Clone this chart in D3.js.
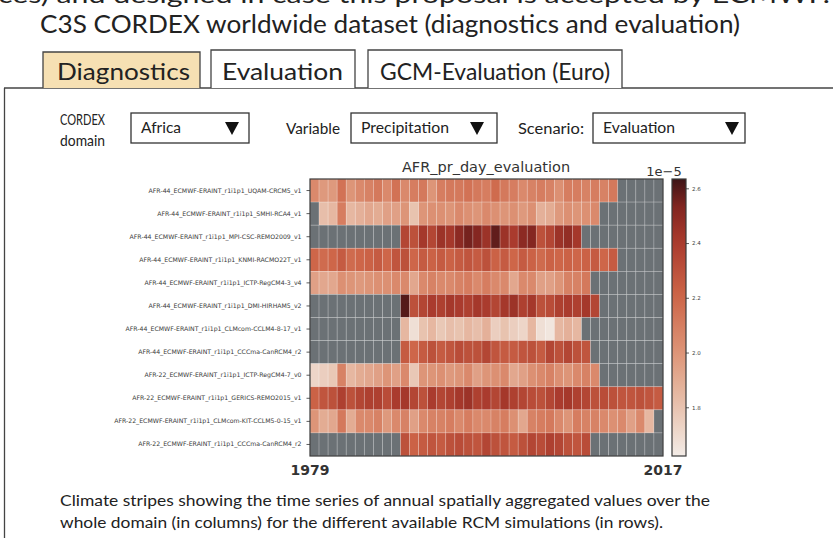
<!DOCTYPE html>
<html>
<head>
<meta charset="utf-8">
<title>AFR_pr_day_evaluation</title>
<script src="https://cdn.jsdelivr.net/npm/d3@7"></script>
<style>
  body { margin: 0; background: #fff; }
  svg { display: block; }
  .ui { font-family: Lato, "Open Sans", sans-serif; fill: #222; }
  .mpl { font-family: "DejaVu Sans", sans-serif; fill: #333; }
</style>
</head>
<body>
<div id="chart"></div>
<script>
// rows of the heatmap (RCM simulations)
var models = [
  "AFR-44_ECMWF-ERAINT_r1i1p1_UQAM-CRCM5_v1",
  "AFR-44_ECMWF-ERAINT_r1i1p1_SMHI-RCA4_v1",
  "AFR-44_ECMWF-ERAINT_r1i1p1_MPI-CSC-REMO2009_v1",
  "AFR-44_ECMWF-ERAINT_r1i1p1_KNMI-RACMO22T_v1",
  "AFR-44_ECMWF-ERAINT_r1i1p1_ICTP-RegCM4-3_v4",
  "AFR-44_ECMWF-ERAINT_r1i1p1_DMI-HIRHAM5_v2",
  "AFR-44_ECMWF-ERAINT_r1i1p1_CLMcom-CCLM4-8-17_v1",
  "AFR-44_ECMWF-ERAINT_r1i1p1_CCCma-CanRCM4_r2",
  "AFR-22_ECMWF-ERAINT_r1i1p1_ICTP-RegCM4-7_v0",
  "AFR-22_ECMWF-ERAINT_r1i1p1_GERICS-REMO2015_v1",
  "AFR-22_ECMWF-ERAINT_r1i1p1_CLMcom-KIT-CCLM5-0-15_v1",
  "AFR-22_ECMWF-ERAINT_r1i1p1_CCCma-CanRCM4_r2"
];
var firstYear = [1979, 1980, 1989, 1979, 1979, 1989, 1989, 1989, 1979, 1979, 1979, 1989];
var yearTicks = [1979, 2017];
var cbarTicks = [1.8, 2.0, 2.2, 2.4, 2.6];

// annual precipitation, units of 1e-5
var uqamCrcm5 = [2.05,1.98,1.98,2.15,2.0,2.05,2.08,2.12,2.05,2.15,2.05,2.10,2.12,2.0,2.10,2.12,2.12,2.15,2.12,2.10,2.18,2.12,2.10,2.05,2.08,2.10,2.08,2.02,2.10,2.10,2.08,2.10,2.08,2.12];
var smhiRca4 = [1.82,1.85,2.1,1.85,1.88,1.92,1.9,1.95,1.95,2.0,1.80,2.0,2.02,2.02,2.0,2.05,2.02,2.0,2.05,2.02,2.0,2.02,1.98,2.02,1.88,1.90,1.98,2.02,2.0,2.02,2.05];
var remo2009 = [2.35,2.3,2.42,2.35,2.45,2.42,2.5,2.55,2.52,2.45,2.58,2.45,2.4,2.5,2.52,2.3,2.35,2.45,2.48,2.42];
var racmo22t = [2.2,2.18,2.2,2.25,2.18,2.2,2.22,2.25,2.2,2.28,2.3,2.2,2.25,2.22,2.25,2.22,2.25,2.28,2.25,2.3,2.22,2.25,2.2,2.25,2.22,2.18,2.22,2.2,2.22,2.2,2.22,2.25,2.2,2.25];
var regcm43 = [1.95,1.92,1.92,2.02,2.0,1.98,2.0,2.02,2.02,2.05,2.05,1.92,2.05,2.08,2.05,2.05,2.08,2.10,2.05,2.10,2.05,2.05,1.92,2.05,2.05,1.95,1.95,2.0,2.08,2.08,2.12];
var hirham5 = [2.6,2.3,2.35,2.4,2.38,2.42,2.4,2.38,2.42,2.4,2.35,2.42,2.45,2.38,2.42,2.3,2.32,2.38,2.40,2.38,2.42,2.35];
var cclm4817 = [1.85,1.68,1.8,1.85,1.78,1.82,1.8,1.85,1.82,1.88,1.75,1.80,1.75,1.72,1.85,1.68,1.65,1.85,1.88,1.85];
var canrcm4_44 = [2.25,2.2,2.25,2.3,2.25,2.28,2.32,2.3,2.3,2.35,2.28,2.25,2.25,2.28,2.3,2.25,2.35,2.3,2.35,2.3,2.28];
var regcm47 = [1.72,1.75,1.78,2.08,1.85,1.9,1.92,1.95,2.0,1.95,2.05,1.78,2.0,2.0,2.02,1.98,2.0,2.05,1.95,2.0,2.02,2.05,1.92,1.95,2.02,2.05,2.08,2.02,2.0,2.05,2.08,2.05];
var remo2015 = [2.22,2.28,2.3,2.38,2.3,2.35,2.38,2.38,2.32,2.4,2.42,2.35,2.3,2.4,2.35,2.38,2.42,2.45,2.38,2.4,2.35,2.42,2.38,2.35,2.32,2.3,2.35,2.4,2.42,2.38,2.35,2.3,2.32,2.3,2.28,2.28,2.3,2.28,2.25];
var cclm5015 = [2.0,1.9,1.92,2.12,1.9,2.05,2.05,2.08,1.98,2.05,2.08,1.95,2.05,2.08,2.08,2.1,2.05,2.1,2.05,2.05,2.08,2.1,2.02,1.92,2.08,2.1,2.12,2.05,2.0,2.1,2.08,2.08,2.05,2.02,2.05,1.95,2.05,1.85];
var canrcm4_22 = [2.3,2.22,2.25,2.28,2.25,2.3,2.32,2.3,2.28,2.35,2.3,2.28,2.25,2.3,2.35,2.32,2.38,2.35,2.3,2.28,2.32];

var series = [uqamCrcm5, smhiRca4, remo2009, racmo22t, regcm43, hirham5,
              cclm4817, canrcm4_44, regcm47, remo2015, cclm5015, canrcm4_22];

var width = 833, height = 538;
var svg = d3.select("#chart").append("svg")
  .attr("width", width).attr("height", height);
svg.append("rect").attr("width", width).attr("height", height).attr("fill", "#fff");

// --- page text and tabs ---
// last line of the previous paragraph, cut by the top edge
svg.append("text").attr("class", "ui").attr("x", -2).attr("y", 3)
  .attr("font-size", 24).attr("textLength", 832).attr("lengthAdjust", "spacingAndGlyphs")
  .text("ces) and designed in case this proposal is accepted by ECMWF.");
svg.append("text").attr("class", "ui").attr("x", 40).attr("y", 33)
  .attr("font-size", 25).attr("textLength", 700).attr("lengthAdjust", "spacingAndGlyphs")
  .text("C3S CORDEX worldwide dataset (diagnostics and evaluation)");

var tabs = [
  {label: "Diagnostics", x0: 43, x1: 200, tx: 57, tw: 133, fill: "#f6e0b3", top: 52},
  {label: "Evaluation", x0: 211, x1: 355, tx: 222, tw: 121, fill: "#fff", top: 50},
  {label: "GCM-Evaluation (Euro)", x0: 368, x1: 622, tx: 380, tw: 230, fill: "#fff", top: 50}
];
svg.append("line").attr("x1", 4).attr("x2", width).attr("y1", 88).attr("y2", 88)
  .attr("stroke", "#444").attr("stroke-width", 1.3);
svg.append("line").attr("x1", 4.5).attr("x2", 4.5).attr("y1", 88).attr("y2", height)
  .attr("stroke", "#444").attr("stroke-width", 1.3);
tabs.forEach(function(t){
  svg.append("path")
    .attr("d", "M" + t.x0 + ",88V" + t.top + "H" + t.x1 + "V88")
    .attr("fill", t.fill).attr("stroke", "#444").attr("stroke-width", 1.3);
  svg.append("text").attr("class", "ui").attr("x", t.tx).attr("y", 80)
    .attr("font-size", 24).attr("textLength", t.tw).attr("lengthAdjust", "spacingAndGlyphs")
    .text(t.label);
});

// --- dropdown controls ---
svg.append("text").attr("class", "ui").attr("x", 60).attr("y", 125).attr("font-size", 15)
  .attr("textLength", 45).attr("lengthAdjust", "spacingAndGlyphs").text("CORDEX");
svg.append("text").attr("class", "ui").attr("x", 60).attr("y", 146).attr("font-size", 15)
  .attr("textLength", 45).attr("lengthAdjust", "spacingAndGlyphs").text("domain");
var controls = [
  {label: "Variable", lx: 286, lw: 54, x0: 351, x1: 497, val: "Precipitation", vw: 88, tri: 470},
  {label: "Scenario:", lx: 518, lw: 66, x0: 593, x1: 745, val: "Evaluation", vw: 72, tri: 725},
  {label: null, x0: 131, x1: 249, val: "Africa", vw: 40, tri: 225}
];
controls.forEach(function(c){
  if (c.label) {
    svg.append("text").attr("class", "ui").attr("x", c.lx).attr("y", 134).attr("font-size", 15)
      .attr("textLength", c.lw).attr("lengthAdjust", "spacingAndGlyphs").text(c.label);
  }
  svg.append("rect").attr("x", c.x0).attr("y", 113).attr("width", c.x1 - c.x0).attr("height", 30)
    .attr("fill", "#fff").attr("stroke", "#333").attr("stroke-width", 1.3);
  svg.append("text").attr("class", "ui").attr("x", c.x0 + 10).attr("y", 133).attr("font-size", 15)
    .attr("textLength", c.vw).attr("lengthAdjust", "spacingAndGlyphs").text(c.val);
  svg.append("path")
    .attr("d", "M" + c.tri + ",122h14l-7,13z").attr("fill", "#111");
});

// --- heatmap ---
var years = d3.range(1979, 2018);
var x = d3.scaleBand().domain(years).range([310, 663]);
var y = d3.scaleBand().domain(models).range([179, 456]);
var vmin = 1.622, vmax = 2.634;
var color = d3.scaleLinear()
  .domain([0, 0.18, 0.38, 0.58, 0.78, 0.9, 1].map(function(t){ return vmin + t * (vmax - vmin); }))
  .range(["#f3ece7", "#e8c2ae", "#dd9376", "#cd6447", "#a8392c", "#812520", "#3d1416"])
  .interpolate(d3.interpolateRgb);

var cells = [];
models.forEach(function(m, i){
  years.forEach(function(yr){
    var k = yr - firstYear[i];
    var v = (k >= 0 && k < series[i].length) ? series[i][k] : null;
    cells.push({model: m, year: yr, value: v});
  });
});

var heat = svg.append("g");
heat.selectAll("rect").data(cells).enter().append("rect")
  .attr("x", function(d){ return x(d.year); })
  .attr("y", function(d){ return y(d.model); })
  .attr("width", x.bandwidth())
  .attr("height", y.bandwidth())
  .attr("fill", function(d){ return d.value == null ? "#6b7175" : color(d.value); })
  .attr("stroke", "rgba(255,255,255,0.28)")
  .attr("stroke-width", 0.7);
heat.append("rect").attr("x", 310).attr("y", 179).attr("width", 353).attr("height", 277)
  .attr("fill", "none").attr("stroke", "#3a3a3a").attr("stroke-width", 1.2);

// y axis labels
var yAxis = svg.append("g").attr("transform", "translate(310,0)")
  .call(d3.axisLeft(y).tickSize(3.5).tickPadding(5));
yAxis.select(".domain").remove();
yAxis.selectAll("line").attr("stroke", "#333").attr("stroke-width", 0.8);
yAxis.selectAll("text").attr("font-family", "DejaVu Sans").attr("font-size", 6.2).attr("fill", "#3a3a3a");

// x tick labels only at first and last year
svg.selectAll(".yr").data(yearTicks).enter().append("text")
  .attr("class", "mpl")
  .attr("x", function(d){ return x(d) + (d === 1979 ? 0 : x.bandwidth()); })
  .attr("y", 475).attr("text-anchor", "middle")
  .attr("font-size", 14).attr("font-weight", "bold").attr("fill", "#333")
  .text(function(d){ return d; });

svg.append("text").attr("class", "mpl").attr("x", 486).attr("y", 172)
  .attr("text-anchor", "middle").attr("font-size", 14.5).text("AFR_pr_day_evaluation");
svg.append("text").attr("class", "mpl").attr("x", 664).attr("y", 176)
  .attr("text-anchor", "middle").attr("font-size", 13).text("1e\u22125");

// --- colorbar ---
var cy = d3.scaleLinear().domain([vmin, vmax]).range([456, 179]);
var grad = svg.append("defs").append("linearGradient").attr("id", "cbar")
  .attr("x1", 0).attr("y1", 1).attr("x2", 0).attr("y2", 0);
d3.range(0, 1.0001, 0.05).forEach(function(t){
  grad.append("stop").attr("offset", t).attr("stop-color", color(vmin + t * (vmax - vmin)));
});
svg.append("rect").attr("x", 672).attr("y", 179).attr("width", 14).attr("height", 277)
  .attr("fill", "url(#cbar)").attr("stroke", "#3a3a3a").attr("stroke-width", 1.2);
var cAxis = svg.append("g").attr("transform", "translate(686,0)")
  .call(d3.axisRight(cy).tickValues(cbarTicks).tickFormat(d3.format(".1f")).tickSize(3).tickPadding(3));
cAxis.select(".domain").remove();
cAxis.selectAll("line").attr("stroke", "#333").attr("stroke-width", 0.8);
cAxis.selectAll("text").attr("font-family", "DejaVu Sans").attr("font-size", 5.5).attr("fill", "#3a3a3a");

// --- caption ---
svg.append("text").attr("class", "ui").attr("x", 60).attr("y", 506).attr("font-size", 16)
  .attr("textLength", 650).attr("lengthAdjust", "spacingAndGlyphs")
  .text("Climate stripes  showing the time series of annual spatially aggregated values over the");
svg.append("text").attr("class", "ui").attr("x", 60).attr("y", 528).attr("font-size", 16)
  .attr("textLength", 603).attr("lengthAdjust", "spacingAndGlyphs")
  .text("whole domain (in columns) for the different available RCM simulations (in rows).");
</script>
</body>
</html>
